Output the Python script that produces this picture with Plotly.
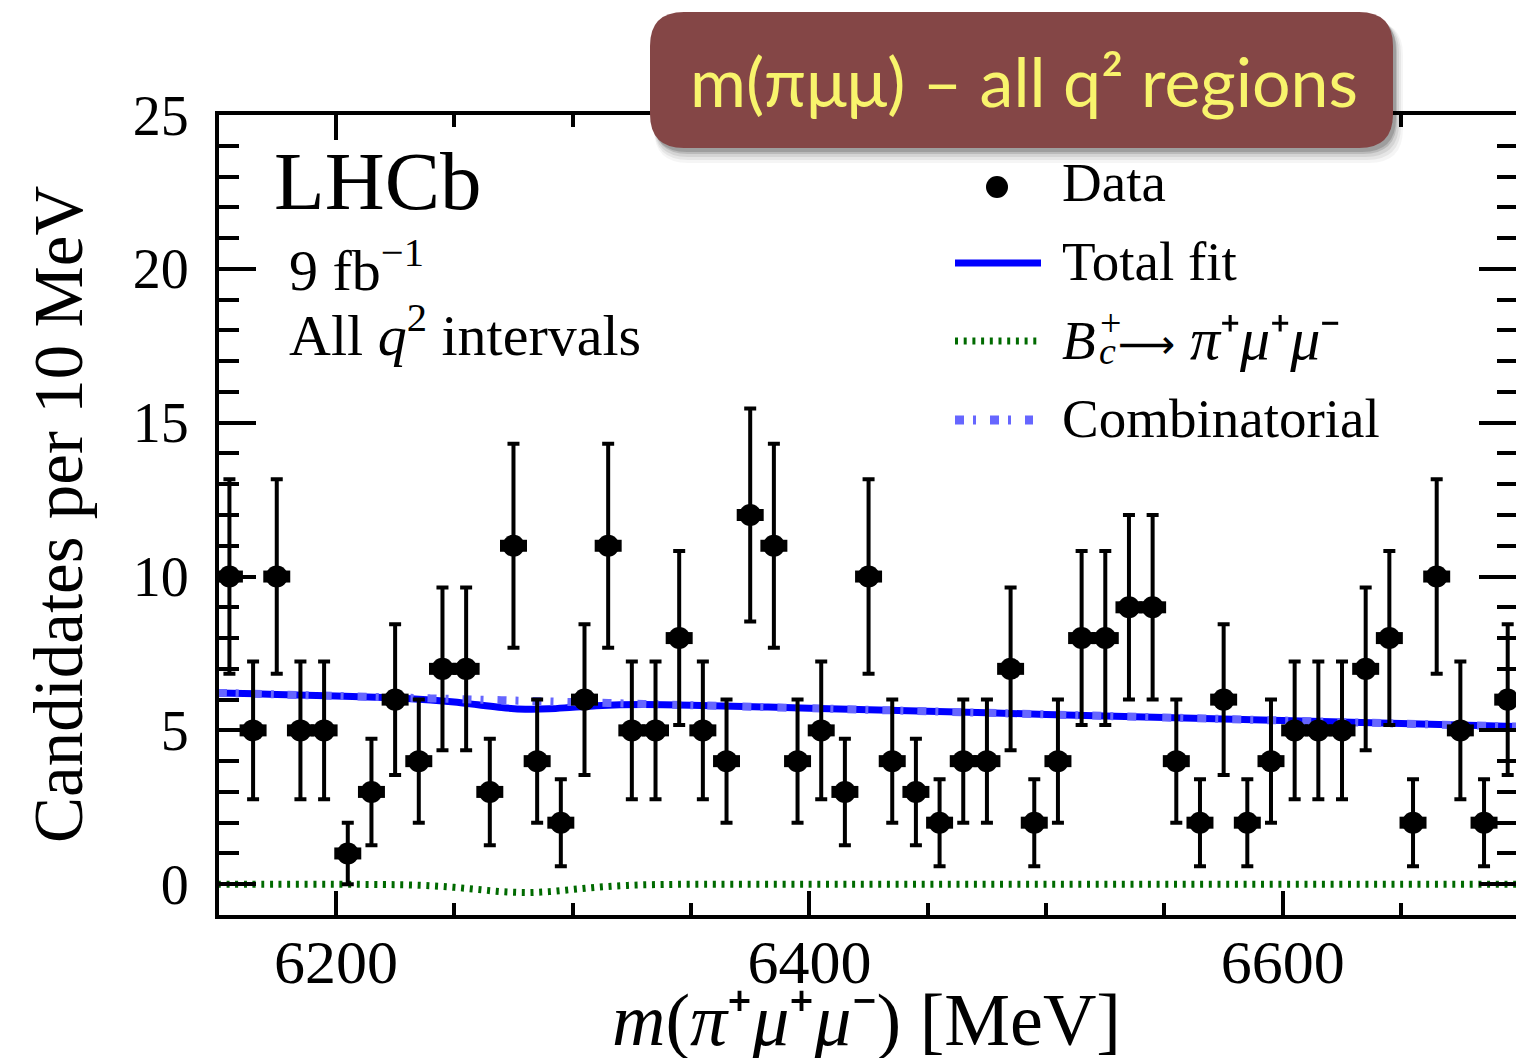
import numpy as np
import plotly.graph_objects as go

# Candidates in 10 MeV bins of m(pi+ mu+ mu-), 6150-6700 MeV
bin_centres = list(range(6155, 6700, 10))
counts = [10, 5, 10, 5, 5, 1, 3, 6, 4, 7,
          7, 3, 11, 4, 2, 6, 11, 5, 5, 8,
          5, 4, 12, 11, 4, 5, 3, 10, 4, 3,
          2, 4, 4, 7, 2, 4, 8, 8, 9, 9,
          4, 2, 6, 2, 4, 5, 5, 5, 7, 8,
          2, 10, 5, 2, 6]
count_err = np.sqrt(np.array(counts, dtype=float))

# Fit projections sampled along the mass axis
fit_mass = [6150, 6175, 6200, 6220, 6230, 6240, 6250, 6260, 6270, 6280,
            6290, 6300, 6310, 6320, 6330, 6350, 6400, 6450, 6500, 6550,
            6600, 6650, 6700]
comb_fit = [6.22, 6.17, 6.12, 6.08, 6.06, 6.04, 6.02, 6.00, 5.98, 5.96,
            5.94, 5.92, 5.90, 5.88, 5.86, 5.82, 5.72, 5.62, 5.52, 5.42,
            5.32, 5.22, 5.12]
signal_fit = [0.0, 0.0, 0.0, -0.01, -0.02, -0.05, -0.10, -0.17, -0.24, -0.27,
              -0.24, -0.17, -0.10, -0.05, -0.02, 0.0, 0.0, 0.0, 0.0, 0.0,
              0.0, 0.0, 0.0]
total_fit = [6.22, 6.17, 6.12, 6.07, 6.04, 5.99, 5.92, 5.83, 5.74, 5.69,
             5.70, 5.75, 5.80, 5.83, 5.84, 5.82, 5.72, 5.62, 5.52, 5.42,
             5.32, 5.22, 5.12]

x_range = [6150.6, 6698.5]
y_range = [-1, 25]
x_major = [6200, 6400, 6600]
y_major = [0, 5, 10, 15, 20, 25]

FIG_W, FIG_H = 1516, 1058
L, R, T, B = 219, 0, 115, 143
PW, PH = FIG_W - L - R, FIG_H - T - B

SERIF = "Liberation Serif, Times New Roman, serif"
BANNER_FONT = "Lato, Liberation Sans, sans-serif"
BLUE = "#0000ff"
LIGHT_BLUE = "#6666ff"
GREEN = "#006a00"


def px(xp):
    return (xp - L) / PW


def py(yp):
    return (T + PH - yp) / PH


def rounded_path(x0, y0, x1, y1, r):
    pts = [
        ("M", [(x0 + r, y0)]), ("L", [(x1 - r, y0)]), ("Q", [(x1, y0), (x1, y0 + r)]),
        ("L", [(x1, y1 - r)]), ("Q", [(x1, y1), (x1 - r, y1)]),
        ("L", [(x0 + r, y1)]), ("Q", [(x0, y1), (x0, y1 - r)]),
        ("L", [(x0, y0 + r)]), ("Q", [(x0, y0), (x0 + r, y0)]),
    ]
    out = []
    for cmd, coords in pts:
        out.append(cmd + " ".join(f"{px(a):.5f},{py(b):.5f}" for a, b in coords))
    return " ".join(out) + " Z"


fig = go.Figure()

fig.add_trace(go.Scatter(x=fit_mass, y=signal_fit, mode="lines",
                         line=dict(color=GREEN, width=7, dash="3px,5.7px", shape="spline"),
                         hoverinfo="skip"))
fig.add_trace(go.Scatter(x=fit_mass, y=total_fit, mode="lines",
                         line=dict(color=BLUE, width=7, shape="spline"),
                         hoverinfo="skip"))
fig.add_trace(go.Scatter(x=fit_mass, y=comb_fit, mode="lines",
                         line=dict(color=LIGHT_BLUE, width=8, dash="9px,9px,3px,14px",
                                   shape="spline"),
                         hoverinfo="skip"))
fig.add_trace(go.Scatter(
    x=bin_centres, y=counts, mode="markers",
    marker=dict(size=22, color="black"),
    error_y=dict(type="data", array=count_err, thickness=4, width=6, color="black"),
    error_x=dict(type="constant", value=5.7, thickness=12, width=0, color="black"),
))

# helper traces so the mirrored top / right tick axes are drawn
fig.add_trace(go.Scatter(x=[None], y=[None], xaxis="x2", yaxis="y", hoverinfo="skip"))
fig.add_trace(go.Scatter(x=[None], y=[None], xaxis="x", yaxis="y2", hoverinfo="skip"))

tick_common = dict(ticks="inside", tickwidth=4, tickcolor="black",
                   showgrid=False, zeroline=False)

fig.update_layout(
    width=FIG_W, height=FIG_H,
    margin=dict(l=L, r=R, t=T, b=B, autoexpand=False),
    paper_bgcolor="white", plot_bgcolor="white",
    showlegend=False,
    font=dict(family=SERIF, color="black"),
    xaxis=dict(range=x_range, tickvals=x_major, ticklen=24,
               tickfont=dict(size=62, family=SERIF), ticklabelstandoff=-10,
               showline=True, linewidth=4, linecolor="black", mirror=True,
               minor=dict(dtick=50, tick0=6150, ticks="inside", ticklen=12,
                          tickwidth=4, tickcolor="black", showgrid=False),
               **tick_common),
    yaxis=dict(range=y_range, tickvals=y_major, ticklen=37,
               tickfont=dict(size=56, family=SERIF), ticklabelstandoff=15,
               showline=True, linewidth=4, linecolor="black",
               minor=dict(dtick=1, tick0=0, ticks="inside", ticklen=20,
                          tickwidth=4, tickcolor="black", showgrid=False),
               **tick_common),
    xaxis2=dict(range=x_range, overlaying="x", side="top", anchor="y",
                tickvals=x_major, ticklen=25, showticklabels=False, showline=False,
                minor=dict(dtick=50, tick0=6150, ticks="inside", ticklen=12,
                           tickwidth=4, tickcolor="black", showgrid=False),
                **tick_common),
    yaxis2=dict(range=y_range, overlaying="y", side="right", anchor="x",
                tickvals=y_major, ticklen=37, showticklabels=False, showline=False,
                minor=dict(dtick=1, tick0=0, ticks="inside", ticklen=19,
                           tickwidth=4, tickcolor="black", showgrid=False),
                **tick_common),
)

shapes = []
# banner with soft drop shadow
for dx, dy, grow, alpha in [(7, 12, 3, 0.04), (6, 10, 2, 0.06), (5, 8, 1, 0.08),
                            (4, 6, 0, 0.12), (3, 4, 0, 0.15)]:
    shapes.append(dict(type="path", xref="paper", yref="paper", layer="above",
                       path=rounded_path(650 + dx - grow, 12 + dy - grow,
                                         1393 + dx + grow, 148 + dy + grow, 34),
                       fillcolor=f"rgba(0,0,0,{alpha})", line=dict(width=0)))
shapes.append(dict(type="path", xref="paper", yref="paper", layer="above",
                   path=rounded_path(650, 12, 1393, 148, 34),
                   fillcolor="#844646", line=dict(width=0)))

# legend glyphs
shapes.append(dict(type="circle", xref="paper", yref="paper",
                   xsizemode="pixel", ysizemode="pixel",
                   xanchor=px(997), yanchor=py(187),
                   x0=-11, x1=11, y0=-11, y1=11,
                   fillcolor="black", line=dict(width=0)))
shapes.append(dict(type="line", xref="paper", yref="paper",
                   x0=px(955), x1=px(1041), y0=py(263), y1=py(263),
                   line=dict(color=BLUE, width=7)))
shapes.append(dict(type="line", xref="paper", yref="paper",
                   x0=px(955), x1=px(1037), y0=py(341), y1=py(341),
                   line=dict(color=GREEN, width=7, dash="3px,5.7px")))
shapes.append(dict(type="line", xref="paper", yref="paper",
                   x0=px(955), x1=px(1033), y0=py(420), y1=py(420),
                   line=dict(color=LIGHT_BLUE, width=9, dash="9px,9px,3px,14px")))
fig.update_layout(shapes=shapes)


def text(s, x, y, size, xanchor="left", yanchor="bottom", family=SERIF,
         color="black", angle=0):
    fig.add_annotation(text=s, x=px(x), y=py(y), xref="paper", yref="paper",
                       xanchor=xanchor, yanchor=yanchor, showarrow=False,
                       textangle=angle, font=dict(size=size, family=family, color=color))


text("m(πμμ) – all q² regions", 1024, 80, 68, xanchor="center", yanchor="middle",
     family=BANNER_FONT, color="#f8f46c")

text("LHCb", 272, 229, 83)
text("9 fb<sup>−1</sup>", 287, 305, 58)
text("All <i>q</i><sup>2</sup> intervals", 287, 370, 58)

text("Data", 1060, 215, 55)
text("Total fit", 1060, 294, 55)
text("<i>B</i>", 1060, 373, 55)
text("<i>c</i>", 1097, 374, 38)
text("+", 1098, 346, 38)
text("⟶", 1116, 344, 40, yanchor="middle", family="DejaVu Sans, Liberation Serif")
text("<i>π</i>⁺<i>μ</i>⁺<i>μ</i>⁻", 1188, 374, 60)
text("Combinatorial", 1060, 451, 55)

text("Candidates per 10 MeV", 59, 515, 69, xanchor="center", yanchor="middle", angle=-90)
text("<i>m</i>(<i>π</i>⁺<i>μ</i>⁺<i>μ</i>⁻) [MeV]",
     866, 1063, 74, xanchor="center", yanchor="bottom")

fig.write_html("out.html")
